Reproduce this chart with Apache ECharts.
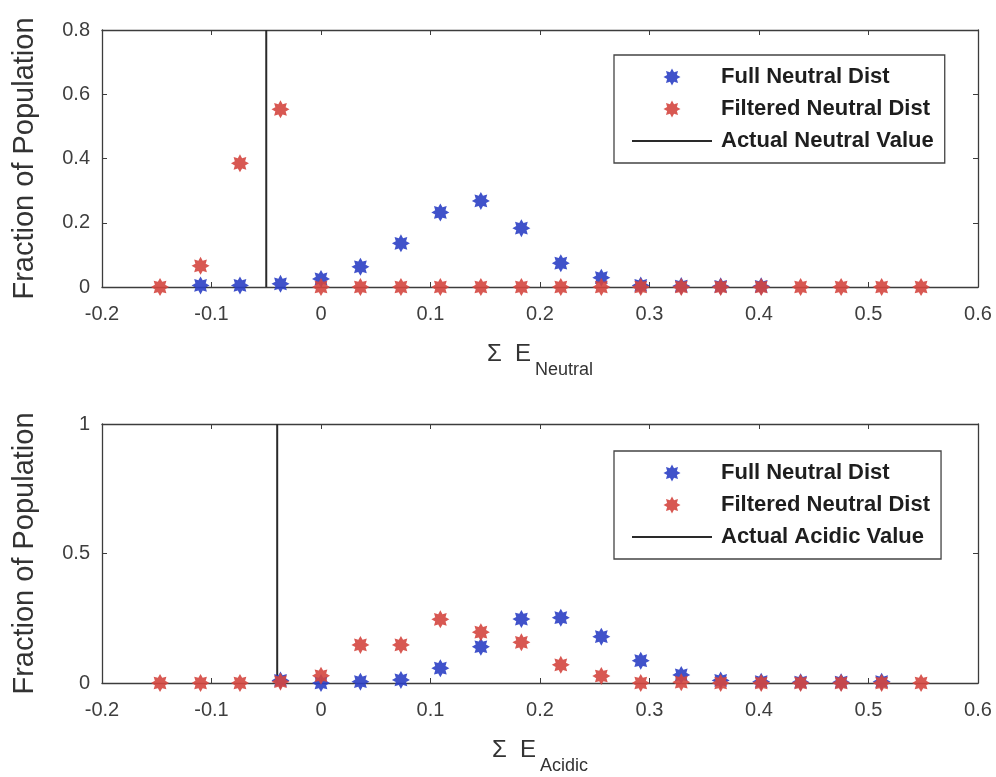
<!DOCTYPE html>
<html>
<head>
<meta charset="utf-8">
<script src="https://cdn.jsdelivr.net/npm/echarts@6/dist/echarts.min.js"></script>
<style>
  html, body { margin: 0; padding: 0; background: #fff; }
  #chart { width: 996px; height: 777px; }
</style>
</head>
<body>
<div id="chart"></div>
<script>
// Bin centres of the summed-energy histograms
const xBins = [-0.147, -0.110, -0.074, -0.037, 0.000, 0.036, 0.073, 0.109, 0.146, 0.183,
               0.219, 0.256, 0.292, 0.329, 0.365, 0.402, 0.438, 0.475, 0.512, 0.548];

// Neutral panel (null = no marker in that bin)
const neutralFull     = [null, 0.005, 0.005, 0.010, 0.025, 0.063, 0.136, 0.232, 0.268, 0.183,
                         0.074, 0.029, 0.005, 0.003, 0.002, 0.002, null, null, null, null];
const neutralFiltered = [0, 0.066, 0.385, 0.553, 0, 0, 0, 0, 0, 0,
                         0, 0, 0, 0, 0, 0, 0, 0, 0, 0];
const actualNeutral = -0.05;

// Acidic panel
const acidicFull      = [null, null, null, 0.010, 0, 0.005, 0.012, 0.057, 0.140, 0.247,
                         0.252, 0.179, 0.086, 0.031, 0.010, 0.005, 0.003, 0.003, 0.005, null];
const acidicFiltered  = [0, 0, 0, 0.005, 0.028, 0.147, 0.147, 0.246, 0.196, 0.157,
                         0.070, 0.027, 0, 0.003, 0, 0, 0, 0, 0, 0];
const actualAcidic = -0.04;

// Axis ranges and ticks
const xMin = -0.2, xMax = 0.6, xStep = 0.1;
const yNeutralMax = 0.8, yNeutralStep = 0.2;
const yAcidicMax = 1, yAcidicStep = 0.5;

const seriesNames = ['Full Neutral Dist', 'Filtered Neutral Dist'];
const lineNames = ['Actual Neutral Value', 'Actual Acidic Value'];

const BLUE = '#2b3fc4';
const RED = '#d4463f';
const AXIS = '#3c3c3c';
const FONT = 'Liberation Sans, Arial, sans-serif';

// Eight-pointed asterisk-like marker
function starPath() {
  const pts = [];
  for (let k = 0; k < 16; k++) {
    const a = k * Math.PI / 8 - Math.PI / 2;
    const r = (k % 2 === 0) ? 10 : 6.2;
    pts.push((r * Math.cos(a)).toFixed(3) + ' ' + (r * Math.sin(a)).toFixed(3));
  }
  return 'path://M' + pts.join(' L') + ' Z';
}
const STAR = starPath();
// Plain horizontal stroke for the line entries of the legend
const DASHLINE = 'path://M0 0 H80 V2 H0 Z';

function pairs(values) {
  const out = [];
  values.forEach((v, i) => { if (v !== null) out.push([xBins[i], v]); });
  return out;
}

const grids = [
  { left: 102, top: 30, width: 876, height: 257 },
  { left: 102, top: 424, width: 876, height: 259 }
];

const tickLabel = { color: '#3e3e3e', fontSize: 20, fontFamily: FONT };

function xAxes(gi, sub) {
  return [
    {
      type: 'value', gridIndex: gi, position: 'bottom', min: xMin, max: xMax, interval: xStep,
      axisLine: { show: true, lineStyle: { color: AXIS, width: 1.3 } },
      axisTick: { show: true, inside: true, length: 5, lineStyle: { color: AXIS } },
      axisLabel: Object.assign({ margin: 17 }, tickLabel),
      splitLine: { show: false },
      name: '{a|\u03A3  E}{b|' + sub + '}',
      nameLocation: 'middle', nameGap: 55,
      nameTextStyle: {
        rich: {
          a: { fontSize: 24, color: '#333', fontFamily: FONT, lineHeight: 24, verticalAlign: 'top' },
          b: { fontSize: 18, color: '#333', fontFamily: FONT, lineHeight: 18,
               padding: [19, 0, 0, 4], verticalAlign: 'top' }
        }
      }
    },
    {
      type: 'value', gridIndex: gi, position: 'top', min: xMin, max: xMax, interval: xStep,
      axisLine: { show: true, onZero: false, lineStyle: { color: AXIS, width: 1.3 } },
      axisTick: { show: true, inside: true, length: 5, lineStyle: { color: AXIS } },
      axisLabel: { show: false }, splitLine: { show: false }
    }
  ];
}

function yAxes(gi, max, step) {
  return [
    {
      type: 'value', gridIndex: gi, position: 'left', min: 0, max: max, interval: step,
      axisLine: { show: true, onZero: false, lineStyle: { color: AXIS, width: 1.3 } },
      axisTick: { show: true, inside: true, length: 5, lineStyle: { color: AXIS } },
      axisLabel: Object.assign({ margin: 12 }, tickLabel),
      splitLine: { show: false },
      name: 'Fraction of Population', nameLocation: 'middle', nameGap: 63,
      nameTextStyle: { fontSize: 29, color: '#333', fontFamily: FONT }
    },
    {
      type: 'value', gridIndex: gi, position: 'right', min: 0, max: max, interval: step,
      axisLine: { show: true, onZero: false, lineStyle: { color: AXIS, width: 1.3 } },
      axisTick: { show: true, inside: true, length: 5, lineStyle: { color: AXIS } },
      axisLabel: { show: false }, splitLine: { show: false }
    }
  ];
}

function scatter(name, values, color, xi, yi, z) {
  return {
    type: 'scatter', name: name, xAxisIndex: xi, yAxisIndex: yi,
    data: pairs(values), symbol: STAR, symbolSize: 18, clip: false, z: z,
    itemStyle: { color: color, opacity: 0.9 }
  };
}

function vline(name, x, yMax, xi, yi) {
  return {
    type: 'line', name: name, xAxisIndex: xi, yAxisIndex: yi,
    data: [[x, 0], [x, yMax]], symbol: 'none', z: 1,
    lineStyle: { color: '#2a2a2a', width: 2 }, itemStyle: { color: '#2a2a2a' }
  };
}

function legend(top, lineName) {
  return {
    left: 614, top: top, orient: 'vertical',
    padding: [11, 11, 11, 18], itemGap: 10, itemWidth: 80, itemHeight: 17,
    borderColor: '#444', borderWidth: 1.3, backgroundColor: '#fff',
    selectedMode: false,
    textStyle: { fontSize: 22, fontWeight: 'bold', color: '#1e1e1e', fontFamily: FONT,
                 padding: [0, 0, 0, 4] },
    data: [
      { name: seriesNames[0], icon: STAR },
      { name: seriesNames[1], icon: STAR },
      { name: lineName, icon: DASHLINE }
    ]
  };
}

const chart = echarts.init(document.getElementById('chart'), null, { renderer: 'canvas' });
chart.setOption({
  backgroundColor: '#fff',
  animation: false,
  grid: grids,
  xAxis: xAxes(0, 'Neutral').concat(xAxes(1, 'Acidic')),
  yAxis: yAxes(0, yNeutralMax, yNeutralStep).concat(yAxes(1, yAcidicMax, yAcidicStep)),
  legend: [legend(55, lineNames[0]), legend(451, lineNames[1])],
  series: [
    vline(lineNames[0], actualNeutral, yNeutralMax, 0, 0),
    scatter(seriesNames[0], neutralFull, BLUE, 0, 0, 3),
    scatter(seriesNames[1], neutralFiltered, RED, 0, 0, 4),
    vline(lineNames[1], actualAcidic, yAcidicMax, 2, 2),
    scatter(seriesNames[0], acidicFull, BLUE, 2, 2, 3),
    scatter(seriesNames[1], acidicFiltered, RED, 2, 2, 4)
  ]
});
</script>
</body>
</html>
